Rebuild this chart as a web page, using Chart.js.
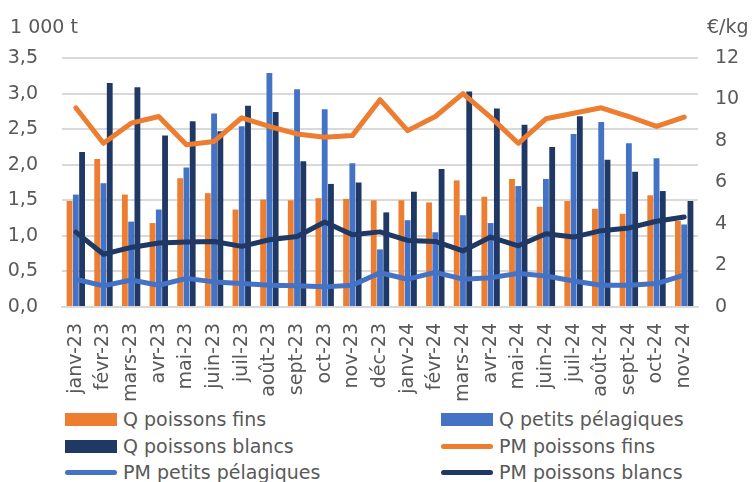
<!DOCTYPE html>
<html>
<head>
<meta charset="utf-8">
<script src="https://cdn.jsdelivr.net/npm/chart.js@4.4.1/dist/chart.umd.min.js"></script>
<style>
  body { margin: 0; background: #fff; font-family: "DejaVu Sans", sans-serif; }
  #wrap { position: relative; width: 755px; height: 482px; overflow: hidden; }
  #chartBox { position: absolute; left: 0; top: 0; width: 755px; height: 402px; }
  .unit { position: absolute; top: 14px; font-size: 19px; color: #595959; line-height: 24px; }
  #legend { position: absolute; left: 0; top: 0; width: 755px; }
  .item { position: absolute; display: flex; align-items: center; font-size: 19px; color: #595959; height: 26px; line-height: 26px; }
  .sw { width: 52px; margin-right: 6px; }
</style>
</head>
<body>
<div id="wrap">
  <div id="chartBox"><canvas id="c"></canvas></div>
  <div class="unit" style="left:10px">1 000 t</div>
  <div class="unit" style="left:707px">€/kg</div>
  <div id="legend"></div>
</div>
<script>
const months = ['janv-23','févr-23','mars-23','avr-23','mai-23','juin-23','juil-23','août-23','sept-23','oct-23','nov-23','déc-23',
                'janv-24','févr-24','mars-24','avr-24','mai-24','juin-24','juil-24','août-24','sept-24','oct-24','nov-24'];

// quantities, 1 000 t
const qFins      = [1.49,2.08,1.58,1.18,1.81,1.60,1.37,1.51,1.50,1.53,1.52,1.50,1.50,1.47,1.78,1.55,1.80,1.41,1.49,1.38,1.31,1.57,1.21];
const qPelagiques= [1.58,1.74,1.20,1.37,1.96,2.72,2.54,3.29,3.06,2.78,2.02,0.81,1.22,1.05,1.29,1.18,1.70,1.80,2.43,2.60,2.30,2.09,1.16];
const qBlancs    = [2.18,3.15,3.09,2.41,2.61,2.47,2.83,2.74,2.05,1.73,1.75,1.33,1.62,1.94,3.03,2.79,2.56,2.25,2.68,2.07,1.90,1.63,1.49];

// average prices, €/kg
const pmFins      = [9.60,7.89,8.86,9.18,7.82,7.98,9.12,8.70,8.34,8.18,8.26,9.99,8.50,9.18,10.28,9.15,7.89,9.07,9.34,9.60,9.18,8.70,9.15];
const pmPelagiques= [1.34,1.02,1.30,1.05,1.38,1.21,1.13,1.05,1.02,0.97,1.05,1.65,1.34,1.67,1.34,1.41,1.62,1.49,1.25,1.05,1.05,1.13,1.54];
const pmBlancs    = [3.61,2.54,2.87,3.08,3.13,3.16,2.92,3.24,3.40,4.10,3.48,3.62,3.21,3.16,2.70,3.37,2.95,3.53,3.37,3.68,3.81,4.13,4.34];

const ORANGE = '#ED7D31', BLUE = '#4472C4', NAVY = '#203864';
const GREY = '#595959';

const bar = (label, data, color) => ({
  type: 'bar', label, data, backgroundColor: color, yAxisID: 'y', order: 2,
  barPercentage: 0.93, categoryPercentage: 0.68
});
const line = (label, data, color) => ({
  type: 'line', label, data, borderColor: color, backgroundColor: color, yAxisID: 'y1', order: 1,
  borderWidth: 5, pointRadius: 0, tension: 0, borderCapStyle: 'round', borderJoinStyle: 'round'
});

const datasets = [
  bar('Q poissons fins', qFins, ORANGE),
  bar('Q petits pélagiques', qPelagiques, BLUE),
  bar('Q poissons blancs', qBlancs, NAVY),
  line('PM poissons fins', pmFins, ORANGE),
  line('PM petits pélagiques', pmPelagiques, BLUE),
  line('PM poissons blancs', pmBlancs, NAVY)
];

const tickFont = { family: '"DejaVu Sans", sans-serif', size: 19 };

new Chart(document.getElementById('c'), {
  data: { labels: months, datasets },
  options: {
    responsive: true,
    maintainAspectRatio: false,
    animation: false,
    layout: { padding: { top: 58, bottom: 0, left: 0, right: 0 } },
    plugins: { legend: { display: false }, tooltip: { enabled: false } },
    scales: {
      x: {
        grid: { display: false },
        border: { color: '#d9d9d9', width: 2 },
        ticks: { color: GREY, font: tickFont, minRotation: 90, maxRotation: 90, autoSkip: false, padding: 8 },
        afterFit: s => { s.height = 95; }
      },
      y: {
        position: 'left', min: 0, max: 3.5,
        grid: { color: '#d9d9d9', lineWidth: 2, drawTicks: false },
        border: { display: false },
        ticks: { stepSize: 0.5, color: GREY, font: tickFont, padding: 24,
                 callback: v => v.toFixed(1).replace('.', ',') },
        afterFit: s => { s.width = 62; }
      },
      y1: {
        position: 'right', min: 0, max: 12,
        grid: { display: false, drawTicks: false },
        border: { display: false },
        ticks: { stepSize: 2, color: GREY, font: tickFont, padding: 17 },
        afterFit: s => { s.width = 57; }
      }
    }
  }
});

// legend in two columns like the original
const legendPos = [[65,406],[441,406],[65,433],[441,433],[65,459],[441,459]];
const legendEl = document.getElementById('legend');
datasets.forEach((d, i) => {
  const it = document.createElement('div');
  it.className = 'item';
  it.style.left = legendPos[i][0] + 'px';
  it.style.top = legendPos[i][1] + 'px';
  const sw = document.createElement('span');
  sw.className = 'sw';
  if (d.type === 'bar') {
    sw.style.height = '13px';
    sw.style.background = d.backgroundColor;
  } else {
    sw.style.height = '5px';
    sw.style.borderRadius = '3px';
    sw.style.background = d.borderColor;
  }
  it.appendChild(sw);
  it.appendChild(document.createTextNode(d.label));
  legendEl.appendChild(it);
});
</script>
</body>
</html>
